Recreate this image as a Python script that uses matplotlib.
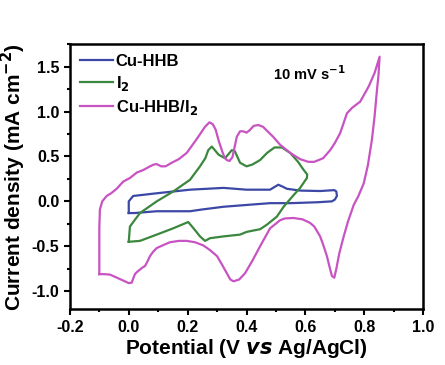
import matplotlib
matplotlib.use("Agg")
import matplotlib.pyplot as plt
from matplotlib.ticker import MultipleLocator

plt.rcParams['font.family'] = ['Liberation Sans', 'DejaVu Sans']
plt.rcParams['font.weight'] = 'bold'
plt.rcParams['axes.unicode_minus'] = False
plt.rcParams['mathtext.default'] = 'bf'

# Cu-HHB (blue)
cu_x = [0.000, 0.000, 0.015, 0.095, 0.208, 0.322, 0.400, 0.480, 0.495, 0.508, 0.522, 0.537, 0.582, 0.650, 0.698, 0.705, 0.707, 0.700, 0.690, 0.640, 0.550, 0.480, 0.400, 0.322, 0.250, 0.208, 0.095, 0.020, 0.000]
cu_y = [-0.130, 0.000, 0.060, 0.090, 0.130, 0.150, 0.130, 0.130, 0.160, 0.185, 0.165, 0.140, 0.120, 0.115, 0.125, 0.110, 0.060, 0.020, 0.000, -0.010, -0.020, -0.020, -0.040, -0.060, -0.090, -0.110, -0.110, -0.130, -0.130]

# I2 (green)
i2_x = [0.000, 0.004, 0.038, 0.095, 0.151, 0.208, 0.242, 0.260, 0.270, 0.282, 0.295, 0.305, 0.327, 0.350, 0.360, 0.378, 0.400, 0.420, 0.446, 0.470, 0.495, 0.520, 0.548, 0.575, 0.594, 0.606, 0.605, 0.582, 0.560, 0.526, 0.503, 0.469, 0.446, 0.400, 0.378, 0.322, 0.276, 0.259, 0.242, 0.220, 0.202, 0.151, 0.095, 0.038, 0.000]
i2_y = [-0.450, -0.280, -0.130, 0.000, 0.110, 0.240, 0.390, 0.480, 0.570, 0.610, 0.560, 0.520, 0.480, 0.570, 0.560, 0.430, 0.390, 0.410, 0.460, 0.540, 0.600, 0.600, 0.540, 0.440, 0.350, 0.300, 0.260, 0.150, 0.070, -0.060, -0.170, -0.260, -0.310, -0.340, -0.370, -0.390, -0.410, -0.440, -0.390, -0.300, -0.230, -0.300, -0.370, -0.440, -0.450]

# Cu-HHB/I2 (pink)
cui_x = [-0.100, -0.100, -0.098, -0.090, -0.075, -0.060, -0.041, -0.019, 0.004, 0.027, 0.050, 0.072, 0.085, 0.095, 0.110, 0.125, 0.146, 0.170, 0.197, 0.230, 0.259, 0.274, 0.285, 0.295, 0.305, 0.316, 0.325, 0.333, 0.342, 0.352, 0.367, 0.378, 0.388, 0.400, 0.410, 0.424, 0.440, 0.456, 0.490, 0.514, 0.548, 0.582, 0.610, 0.630, 0.660, 0.684, 0.700, 0.718, 0.741, 0.758, 0.786, 0.815, 0.835, 0.852,
         0.848, 0.843, 0.835, 0.826, 0.812, 0.798, 0.780, 0.764, 0.745, 0.730, 0.715, 0.705, 0.698, 0.690, 0.682, 0.673, 0.660, 0.650, 0.630, 0.616, 0.590, 0.560, 0.530, 0.514, 0.480, 0.446, 0.420, 0.395, 0.375, 0.356, 0.345, 0.333, 0.316, 0.300, 0.275, 0.253, 0.225, 0.197, 0.170, 0.140, 0.115, 0.095, 0.083, 0.072, 0.062, 0.055, 0.045, 0.038, 0.030, 0.021, 0.015, 0.010, 0.000, -0.020, -0.040, -0.064, -0.085, -0.100]
cui_y = [-0.810, -0.300, -0.090, 0.000, 0.060, 0.090, 0.140, 0.220, 0.260, 0.320, 0.350, 0.390, 0.410, 0.415, 0.390, 0.390, 0.430, 0.470, 0.540, 0.690, 0.830, 0.880, 0.860, 0.800, 0.680, 0.570, 0.490, 0.460, 0.450, 0.490, 0.720, 0.780, 0.780, 0.765, 0.790, 0.840, 0.850, 0.830, 0.720, 0.630, 0.540, 0.470, 0.440, 0.440, 0.480, 0.570, 0.650, 0.760, 0.980, 1.040, 1.110, 1.280, 1.430, 1.610,
         1.400, 1.240, 0.950, 0.690, 0.400, 0.200, 0.060, -0.040, -0.220, -0.390, -0.580, -0.750, -0.850, -0.830, -0.730, -0.610, -0.480, -0.390, -0.280, -0.240, -0.200, -0.185, -0.190, -0.210, -0.300, -0.500, -0.660, -0.800, -0.870, -0.890, -0.870, -0.800, -0.700, -0.610, -0.540, -0.490, -0.455, -0.440, -0.440, -0.455, -0.490, -0.520, -0.560, -0.610, -0.680, -0.720, -0.740, -0.760, -0.780, -0.810, -0.860, -0.905, -0.910, -0.880, -0.850, -0.815, -0.810, -0.810]

labels = ['Cu-HHB', r'I$_\mathbf{2}$', r'Cu-HHB/I$_\mathbf{2}$']
colors = ['#3c48a6', '#3b873d', '#c853c2']

fig = plt.figure(figsize=(4.45, 3.65), dpi=100)
ax = fig.add_axes([0.157, 0.153, 0.794, 0.726])

ax.plot(cu_x, cu_y, color=colors[0], lw=1.6, label=labels[0])
ax.plot(i2_x, i2_y, color=colors[1], lw=1.6, label=labels[1])
ax.plot(cui_x, cui_y, color=colors[2], lw=1.6, label=labels[2])

ax.set_xlim(-0.2, 1.0)
ax.set_ylim(-1.2, 1.75)
ax.xaxis.set_major_locator(MultipleLocator(0.2))
ax.xaxis.set_minor_locator(MultipleLocator(0.1))
ax.yaxis.set_major_locator(MultipleLocator(0.5))
ax.yaxis.set_minor_locator(MultipleLocator(0.25))
ax.tick_params(which='both', direction='out', width=1.5, labelsize=11.5)
ax.tick_params(which='major', length=4)
ax.tick_params(which='minor', length=2.5)
for s in ax.spines.values():
    s.set_linewidth(1.8)
for lab in ax.get_xticklabels() + ax.get_yticklabels():
    lab.set_fontweight('bold')

ax.set_xlabel(r'Potential (V $\mathit{vs}$ Ag/AgCl)', fontsize=15, fontweight='bold', labelpad=2)
ax.set_ylabel(r'Current density (mA cm$^{-2}$)', fontsize=15, fontweight='bold')
ax.yaxis.set_label_coords(-0.118, 0.5)

ax.text(0.612, 1.42, r'10 mV s$^{-1}$', fontsize=10.5, fontweight='bold', ha='center', va='center')

leg = ax.legend(loc='upper left', frameon=False, fontsize=12, handlelength=2.0,
                borderaxespad=0.4, borderpad=0.2, labelspacing=0.3, handletextpad=0.15)
for t in leg.get_texts():
    t.set_fontweight('bold')

fig.savefig('out.png', dpi=100)
